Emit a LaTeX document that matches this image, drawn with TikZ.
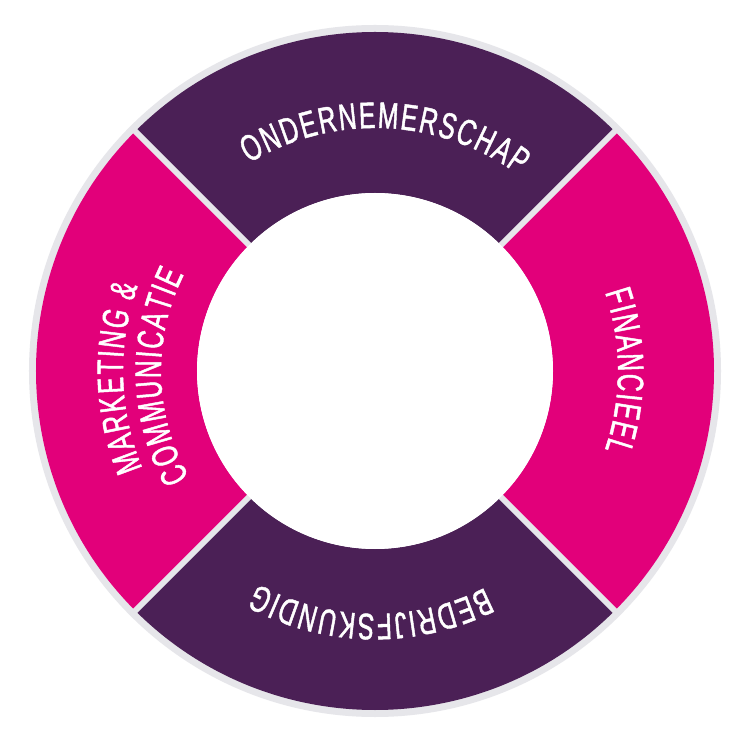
\documentclass[tikz,border=0pt]{standalone}
\usepackage{fontspec}
\usepackage{xcolor}
\usepackage{tikz}

\newfontfamily\ringfont{Liberation Sans}[FakeStretch=0.665, FakeBold=1.2]

\definecolor{plum}{HTML}{4B2056}
\definecolor{berry}{HTML}{E2007A}
\definecolor{ringgrey}{HTML}{E6E6EA}

% one em of the ring font (21pt, stretched by 0.665) in cm, and the gap between letters in em
\def\emcm{0.4912}
\def\chargap{0.07}

% letters set clockwise round the centre: radius, middle angle, list of letter/width
\newcommand\ringword[3]{%
  \gdef\wsum{0}\gdef\nch{0}%
  \foreach \ch/\w in {#3} {%
    \pgfmathsetmacro\tmp{\wsum+\w}\global\let\wsum\tmp
    \pgfmathsetmacro\tmp{\nch+1}\global\let\nch\tmp}%
  \pgfmathsetmacro\degper{\emcm/#1*57.2958}%
  \pgfmathsetmacro\tmp{#2+(\wsum+(\nch-1)*\chargap)/2*\degper}\global\let\apos\tmp
  \foreach \ch/\w in {#3} {%
    \pgfmathsetmacro\chang{\apos-\w/2*\degper}
    \node[ringchar, rotate=\chang-90] at (\chang:#1) {\ch};
    \pgfmathsetmacro\tmp{\apos-(\w+\chargap)*\degper}\global\let\apos\tmp}%
}

\begin{document}
\begin{tikzpicture}[
    segment/.style={draw=none},
    divider/.style={draw=ringgrey, line width=3.4pt},
    ringchar/.style={text=white, inner sep=0pt, anchor=base, font=\ringfont\fontsize{21}{25}\selectfont},
]

\useasboundingbox[fill=white] (-7.5,-7.54) rectangle (7.28,7.42);

% grey rim
\fill[ringgrey] (0,0) circle[radius=6.92];

% four quarters of the ring
\fill[segment, plum] (45:3.56) arc[start angle=45, end angle=135, radius=3.56] -- (135:6.78) arc[start angle=135, end angle=45, radius=6.78] -- cycle;
\fill[segment, berry] (-45:3.56) arc[start angle=-45, end angle=45, radius=3.56] -- (45:6.78) arc[start angle=45, end angle=-45, radius=6.78] -- cycle;
\fill[segment, plum] (225:3.56) arc[start angle=225, end angle=315, radius=3.56] -- (315:6.78) arc[start angle=315, end angle=225, radius=6.78] -- cycle;
\fill[segment, berry] (135:3.56) arc[start angle=135, end angle=225, radius=3.56] -- (225:6.78) arc[start angle=225, end angle=135, radius=6.78] -- cycle;

\foreach \d in {45,135,225,315}
    \draw[divider] (\d:3.5) -- (\d:6.86);

\fill[white] (0,0) circle[radius=3.56];

% labels round the ring
\ringword{4.86}{87.5}{O/.778, N/.722, D/.722, E/.667, R/.722, N/.722, E/.667, M/.833, E/.667, R/.722, S/.667, C/.722, H/.722, A/.667, P/.667}
\ringword{4.86}{0}{F/.611, I/.278, N/.722, A/.667, N/.722, C/.722, I/.278, E/.667, E/.667, L/.556}
\ringword{4.86}{-91}{B/.667, E/.667, D/.722, R/.722, I/.278, J/.5, F/.611, S/.667, K/.667, U/.722, N/.722, D/.722, I/.278, G/.778}
\ringword{5.04}{181.5}{M/.833, A/.667, R/.722, K/.667, E/.667, T/.611, I/.278, N/.722, G/.778, {}/.278, {\&}/.667}
\ringword{4.28}{181.5}{C/.722, O/.778, M/.833, M/.833, U/.722, N/.722, I/.278, C/.722, A/.667, T/.611, I/.278, E/.667}

\end{tikzpicture}
\end{document}
